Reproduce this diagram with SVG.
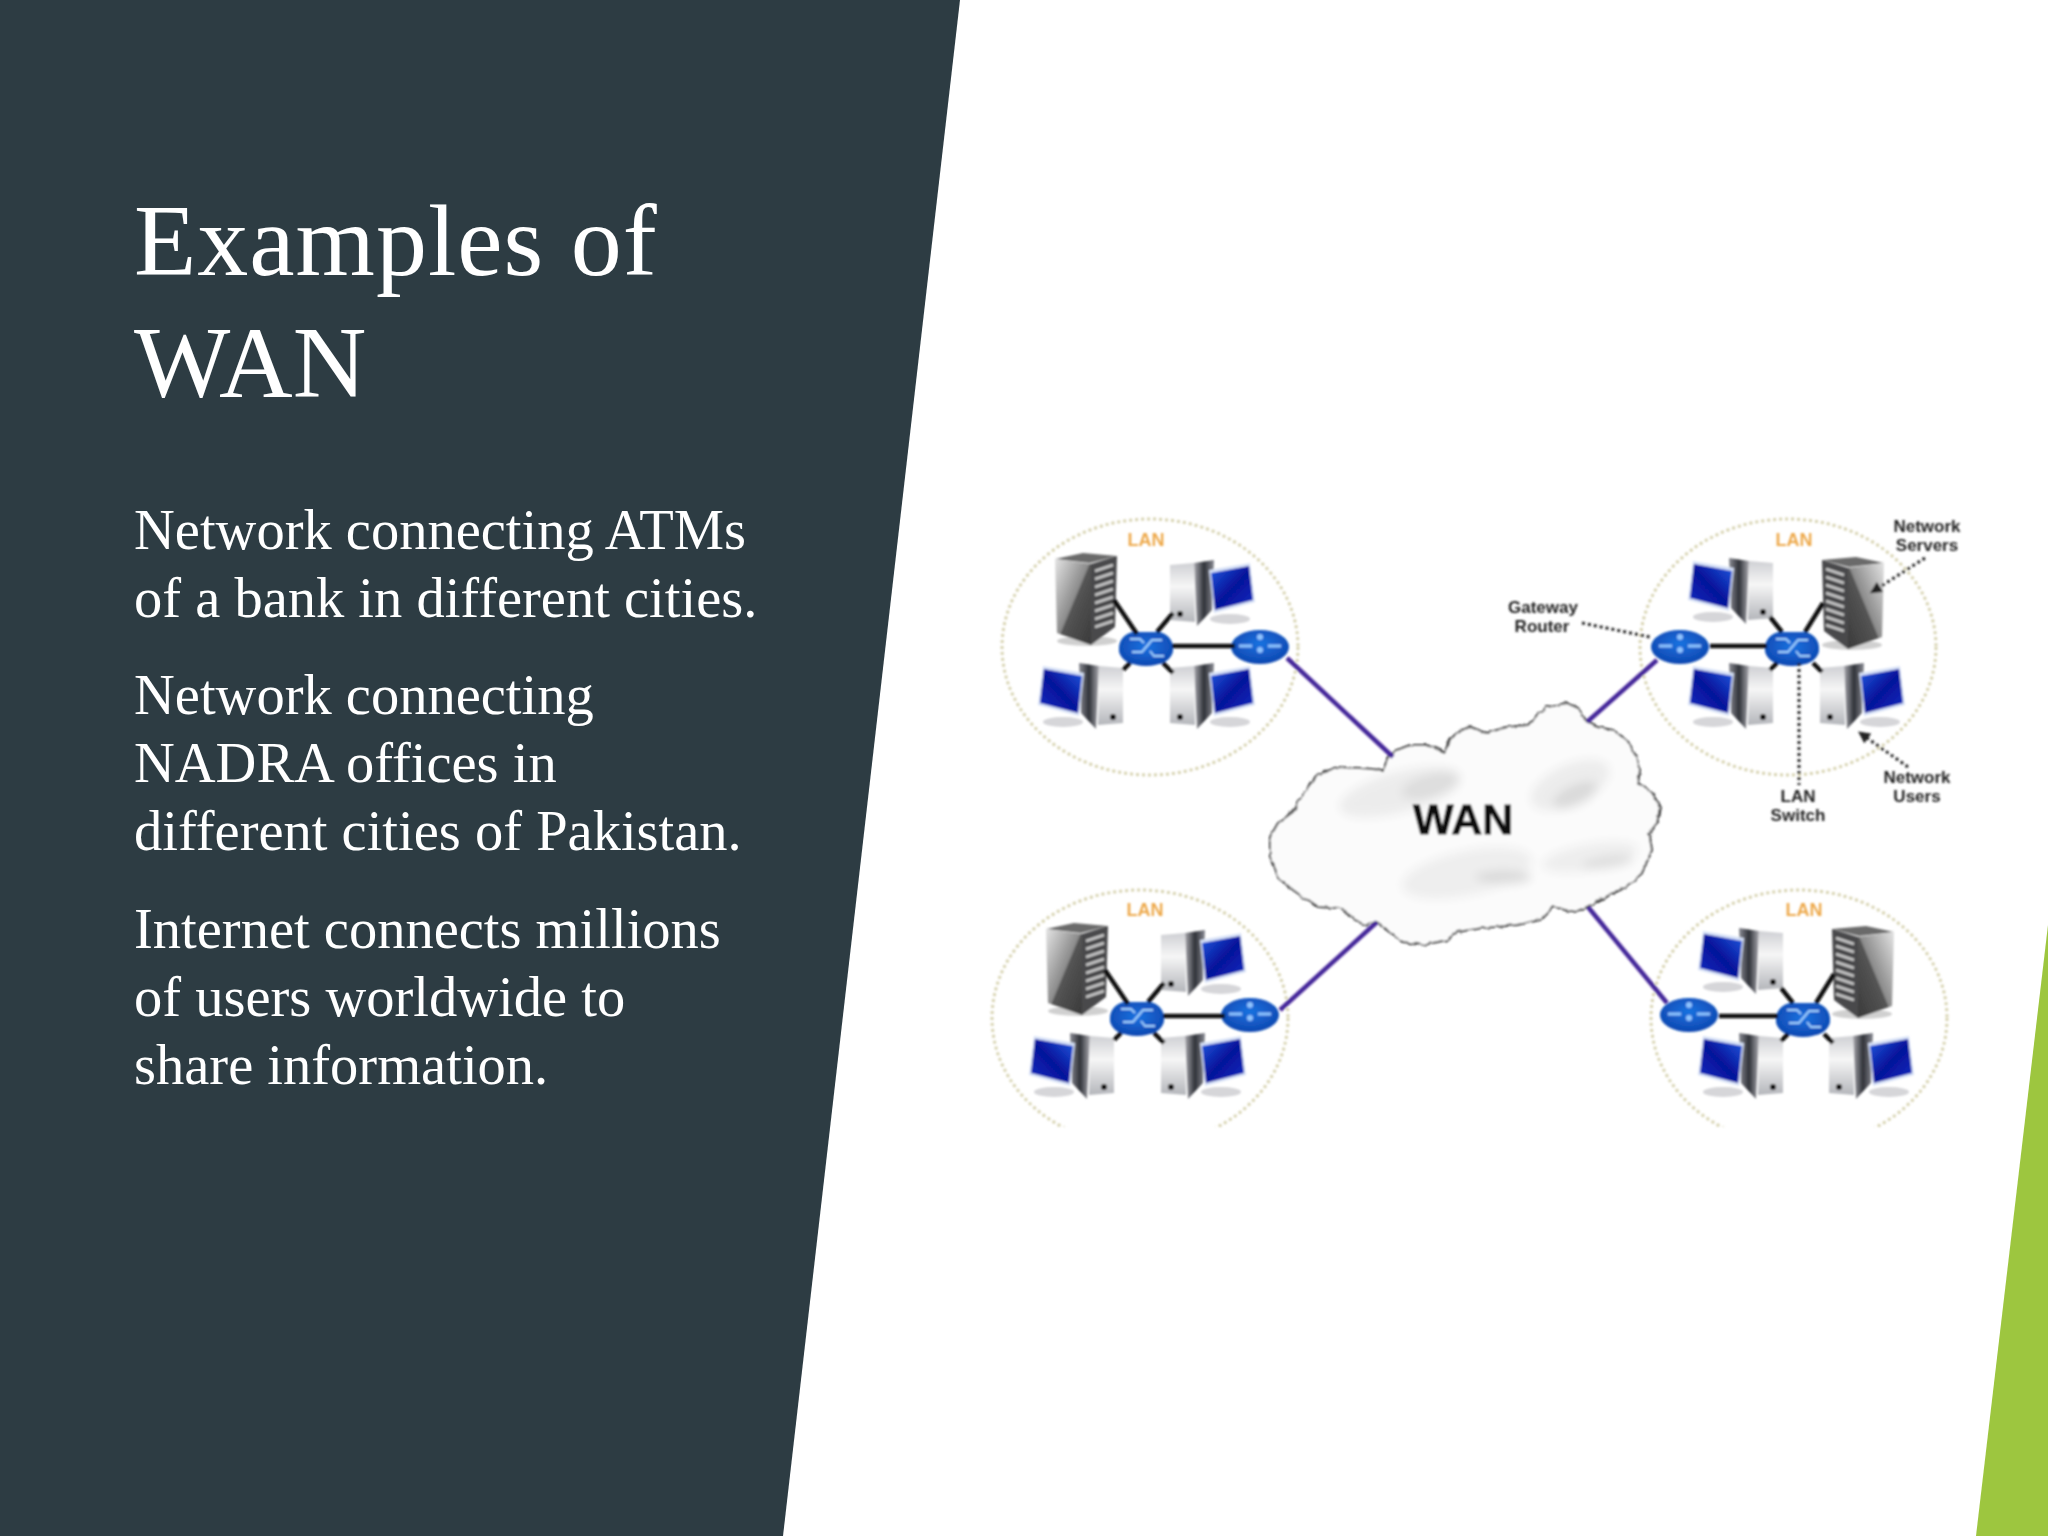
<svg xmlns="http://www.w3.org/2000/svg" xmlns:xlink="http://www.w3.org/1999/xlink" width="2048" height="1536" viewBox="0 0 2048 1536">
<style>
.title{font-family:"Liberation Serif","Times New Roman",serif;font-size:102px;letter-spacing:1px;fill:#fff}
.wt{letter-spacing:0}
.body{font-family:"Liberation Serif","Times New Roman",serif;font-size:56.5px;fill:#fff}
.lan{font-family:"Liberation Sans",Arial,sans-serif;font-size:18px;font-weight:700;fill:#eda84a;text-anchor:middle}
.note{font-family:"Liberation Sans",Arial,sans-serif;font-size:17px;font-weight:700;fill:#222;text-anchor:middle}
.wan{font-family:"Liberation Sans",Arial,sans-serif;font-size:43px;font-weight:700;fill:#111;stroke:#111;stroke-width:.8}
.ring{fill:none;stroke:#d6d1ae;stroke-width:3;stroke-dasharray:3 3}
.lnk{fill:none;stroke:#111;stroke-width:4.5}
.wanl{fill:none;stroke:#45259a;stroke-width:4.5}
.dot{fill:none;stroke:#222;stroke-width:3;stroke-dasharray:3 3}
</style>
<defs>
<filter id="soft" x="-5%" y="-5%" width="110%" height="110%"><feGaussianBlur stdDeviation="1"/></filter>
<filter id="patch" x="-30%" y="-60%" width="160%" height="220%"><feGaussianBlur stdDeviation="5"/></filter>
<filter id="rough" x="-5%" y="-5%" width="110%" height="110%"><feTurbulence type="fractalNoise" baseFrequency="0.14" numOctaves="2" seed="4"/><feDisplacementMap in="SourceGraphic" scale="4" xChannelSelector="R" yChannelSelector="G"/></filter>
<linearGradient id="scr" x1="0" y1="0" x2="1" y2="1"><stop offset="0" stop-color="#1f5be0"/><stop offset=".5" stop-color="#06129a"/><stop offset="1" stop-color="#0a2cc0"/></linearGradient>
<linearGradient id="twr" x1="0" y1="0" x2="0" y2="1"><stop offset="0" stop-color="#cfd0d4"/><stop offset=".4" stop-color="#f6f6f6"/><stop offset="1" stop-color="#b4b6bb"/></linearGradient>
<linearGradient id="sid" x1="0" y1="0" x2="1" y2="0"><stop offset="0" stop-color="#a8a8ae"/><stop offset=".5" stop-color="#2f3138"/><stop offset="1" stop-color="#8a8c94"/></linearGradient>
<linearGradient id="srv" x1="0" y1="0" x2="1" y2="1"><stop offset="0" stop-color="#e4e4e4"/><stop offset=".5" stop-color="#8a8a8a"/><stop offset=".52" stop-color="#555"/><stop offset="1" stop-color="#3a3a3a"/></linearGradient>
<radialGradient id="blu" cx=".5" cy=".4" r=".7"><stop offset="0" stop-color="#1a72e0"/><stop offset="1" stop-color="#0c3fa8"/></radialGradient>
<g id="pc">
<ellipse cx="60" cy="59" rx="20" ry="5" fill="#d6d6d9"/>
<polygon points="0,5 24,3 25,62 0,60" fill="url(#twr)"/>
<polygon points="24,3 44,0 42,50 27,66" fill="url(#sid)"/>
<circle cx="10" cy="54" r="3" fill="#111"/>
<polygon points="39,10 80,3 85,42 44,53" fill="#d5e0f6"/>
<polygon points="41,13 79,6 83,40 45,50" fill="url(#scr)"/>
</g>
<g id="srvA">
<ellipse cx="32" cy="88" rx="30" ry="5" fill="#d0d0d0"/>
<polygon points="0,6 28,0 62,3 35,10" fill="#6b6b6b"/>
<polygon points="0,6 36,11 36,92 2,80" fill="url(#srv)"/>
<polygon points="36,11 62,3 60,74 36,92" fill="#4a4a4c"/>
<path d="M40,18 58,12M40,26 58,20M40,34 58,28M40,42 58,36M40,50 58,44M40,58 58,52M40,66 58,60M40,74 58,68" stroke="#c9c9c9" stroke-width="2.5"/>
</g>
<g id="sw">
<rect x="-27" y="-16" width="54" height="32" rx="16" fill="url(#blu)"/>
<ellipse cx="0" cy="2" rx="27" ry="16" fill="url(#blu)"/>
<path d="M-14,4 -4,4 6,-8 16,-8M-16,-9 -6,-9 -2,-5M4,3 8,8 18,8" fill="none" stroke="#9fd0ff" stroke-width="2"/>
</g>
<g id="rt">
<ellipse cx="0" cy="0" rx="29" ry="17" fill="url(#blu)"/>
<path d="M-21,-1 -8,-1M8,-1 21,-1" stroke="#8fc4ff" stroke-width="3"/>
<circle cx="0" cy="-10" r="3" fill="#8fc4ff"/><circle cx="0" cy="3" r="3" fill="#8fc4ff"/>
</g>
<marker id="arr" viewBox="0 0 10 10" refX="8" refY="5" markerWidth="4" markerHeight="4" orient="auto"><path d="M0,0 10,5 0,10z" fill="#222"/></marker>
<clipPath id="cut"><rect x="960" y="860" width="1010" height="267"/></clipPath>
</defs>

<rect width="2048" height="1536" fill="#fff"/>
<polygon id="panel" points="0,0 960,0 783,1536 0,1536" fill="#2d3c43"/>
<polygon id="accent" points="2048,925 2048,1536 1976,1536" fill="#9dc63f"/>

<g id="heading">
<text class="title" x="134" y="275">Examples of</text>
<text class="title wt" x="134" y="397">WAN</text>
</g>
<g id="points">
<text class="body" x="134" y="549">Network connecting ATMs</text>
<text class="body" x="134" y="617">of a bank in different cities.</text>
<text class="body" x="134" y="714">Network connecting</text>
<text class="body" x="134" y="782">NADRA offices in</text>
<text class="body" x="134" y="850">different cities of Pakistan.</text>
<text class="body" x="134" y="948">Internet connects millions</text>
<text class="body" x="134" y="1016">of users worldwide to</text>
<text class="body" x="134" y="1084">share information.</text>
</g>

<g id="figure" filter="url(#soft)">
<g id="rings">
<ellipse class="ring" cx="1150" cy="647" rx="148" ry="128"/>
<ellipse class="ring" cx="1788" cy="647" rx="148" ry="128"/>
<g clip-path="url(#cut)">
<ellipse class="ring" cx="1140" cy="1018" rx="148" ry="128"/>
<ellipse class="ring" cx="1799" cy="1018" rx="148" ry="128"/>
</g>
</g>

<g id="wan-cloud">
<g filter="url(#rough)"><path d="M1383,770 1388,758 1397,750 1410,745 1427,745 1445,752 1448,743 1457,732 1470,727 1487,733 1507,727 1528,725 1537,715 1547,707 1567,703 1578,708 1587,722 1597,727 1613,730 1627,740 1637,757 1640,770 1638,783 1653,793 1660,808 1657,823 1649,833 1652,850 1647,862 1640,877 1620,890 1600,900 1587,907 1575,912 1553,907 1540,920 1517,925 1483,928 1457,932 1447,940 1423,945 1403,942 1377,922 1363,925 1353,918 1340,908 1317,907 1293,890 1277,877 1270,857 1270,837 1278,823 1293,812 1302,795 1317,775 1337,767 1360,768Z" fill="#fbfbfb" stroke="#444" stroke-width="2" stroke-linejoin="round"/></g>
<g filter="url(#patch)">
<ellipse cx="1400" cy="792" rx="62" ry="20" fill="#ececec" transform="rotate(-15 1400 792)"/>
<ellipse cx="1430" cy="786" rx="30" ry="12" fill="#dedede" transform="rotate(-15 1430 786)"/>
<ellipse cx="1570" cy="785" rx="42" ry="20" fill="#ececec" transform="rotate(-25 1570 785)"/>
<ellipse cx="1575" cy="795" rx="24" ry="10" fill="#dadada" transform="rotate(-25 1575 795)"/>
<ellipse cx="1467" cy="873" rx="66" ry="22" fill="#eeeeee" transform="rotate(-12 1467 873)"/>
<ellipse cx="1503" cy="877" rx="28" ry="7" fill="#dcdcdc"/>
<ellipse cx="1590" cy="857" rx="48" ry="13" fill="#eeeeee" transform="rotate(-10 1590 857)"/>
<ellipse cx="1607" cy="862" rx="26" ry="6" fill="#dedede" transform="rotate(-8 1607 862)"/>
</g>
<text class="wan" x="1413" y="834">WAN</text>
</g>

<g id="lan-top-left">
<text class="lan" x="1146" y="546">LAN</text>
<use href="#srvA" x="1055" y="553"/>
<use href="#pc" x="1170" y="560"/>
<use href="#pc" transform="translate(1123,663) scale(-1,1)"/>
<use href="#pc" x="1170" y="663"/>
<use href="#sw" x="1146" y="648"/>
<use href="#rt" x="1260" y="647"/>
</g>

<g id="lan-bottom-left">
<text class="lan" x="1145" y="916">LAN</text>
<use href="#srvA" x="1046" y="923"/>
<use href="#pc" x="1161" y="930"/>
<use href="#pc" transform="translate(1114,1033) scale(-1,1)"/>
<use href="#pc" x="1161" y="1033"/>
<use href="#sw" x="1137" y="1018"/>
<use href="#rt" x="1250" y="1015"/>
</g>

<g id="lan-top-right">
<text class="lan" x="1794" y="546">LAN</text>
<use href="#srvA" transform="translate(1884,557) scale(-1,1)"/>
<use href="#pc" transform="translate(1773,558) scale(-1,1)"/>
<use href="#pc" transform="translate(1773,663) scale(-1,1)"/>
<use href="#pc" x="1820" y="663"/>
<use href="#sw" x="1792" y="648"/>
<use href="#rt" x="1680" y="647"/>
</g>

<g id="lan-bottom-right">
<text class="lan" x="1804" y="916">LAN</text>
<use href="#srvA" transform="translate(1894,926) scale(-1,1)"/>
<use href="#pc" transform="translate(1783,928) scale(-1,1)"/>
<use href="#pc" transform="translate(1783,1033) scale(-1,1)"/>
<use href="#pc" x="1829" y="1033"/>
<use href="#sw" x="1803" y="1019"/>
<use href="#rt" x="1689" y="1015"/>
</g>

<g id="connectors">
<path class="lnk" d="M1114,600 1137,634M1173,613 1157,632M1123,670 1130,663M1173,673 1163,663M1172,646 1235,646"/>
<path class="lnk" d="M1105,970 1128,1004M1164,983 1148,1002M1114,1040 1121,1033M1164,1043 1154,1033M1163,1016 1225,1016"/>
<path class="lnk" d="M1823,603 1805,632M1770,617 1782,632M1770,670 1777,663M1813,663 1822,672M1710,646 1767,646"/>
<path class="lnk" d="M1834,974 1816,1003M1781,988 1793,1003M1781,1041 1788,1034M1824,1034 1833,1043M1719,1016 1778,1016"/>
<path class="wanl" d="M1287,658 1393,757M1657,660 1587,722M1377,922 1280,1010M1588,907 1667,1003"/>
<path class="dot" d="M1925,558 1872,592" marker-end="url(#arr)"/>
<path class="dot" d="M1582,623 1650,637"/>
<path class="dot" d="M1799,663 1799,785"/>
<path class="dot" d="M1908,767 1860,733" marker-end="url(#arr)"/>
</g>

<g id="labels">
<text class="note" x="1927" y="532">Network</text>
<text class="note" x="1927" y="551">Servers</text>
<text class="note" x="1543" y="613">Gateway</text>
<text class="note" x="1542" y="632">Router</text>
<text class="note" x="1798" y="802">LAN</text>
<text class="note" x="1798" y="821">Switch</text>
<text class="note" x="1917" y="783">Network</text>
<text class="note" x="1917" y="802">Users</text>
</g>
</g>
</svg>
